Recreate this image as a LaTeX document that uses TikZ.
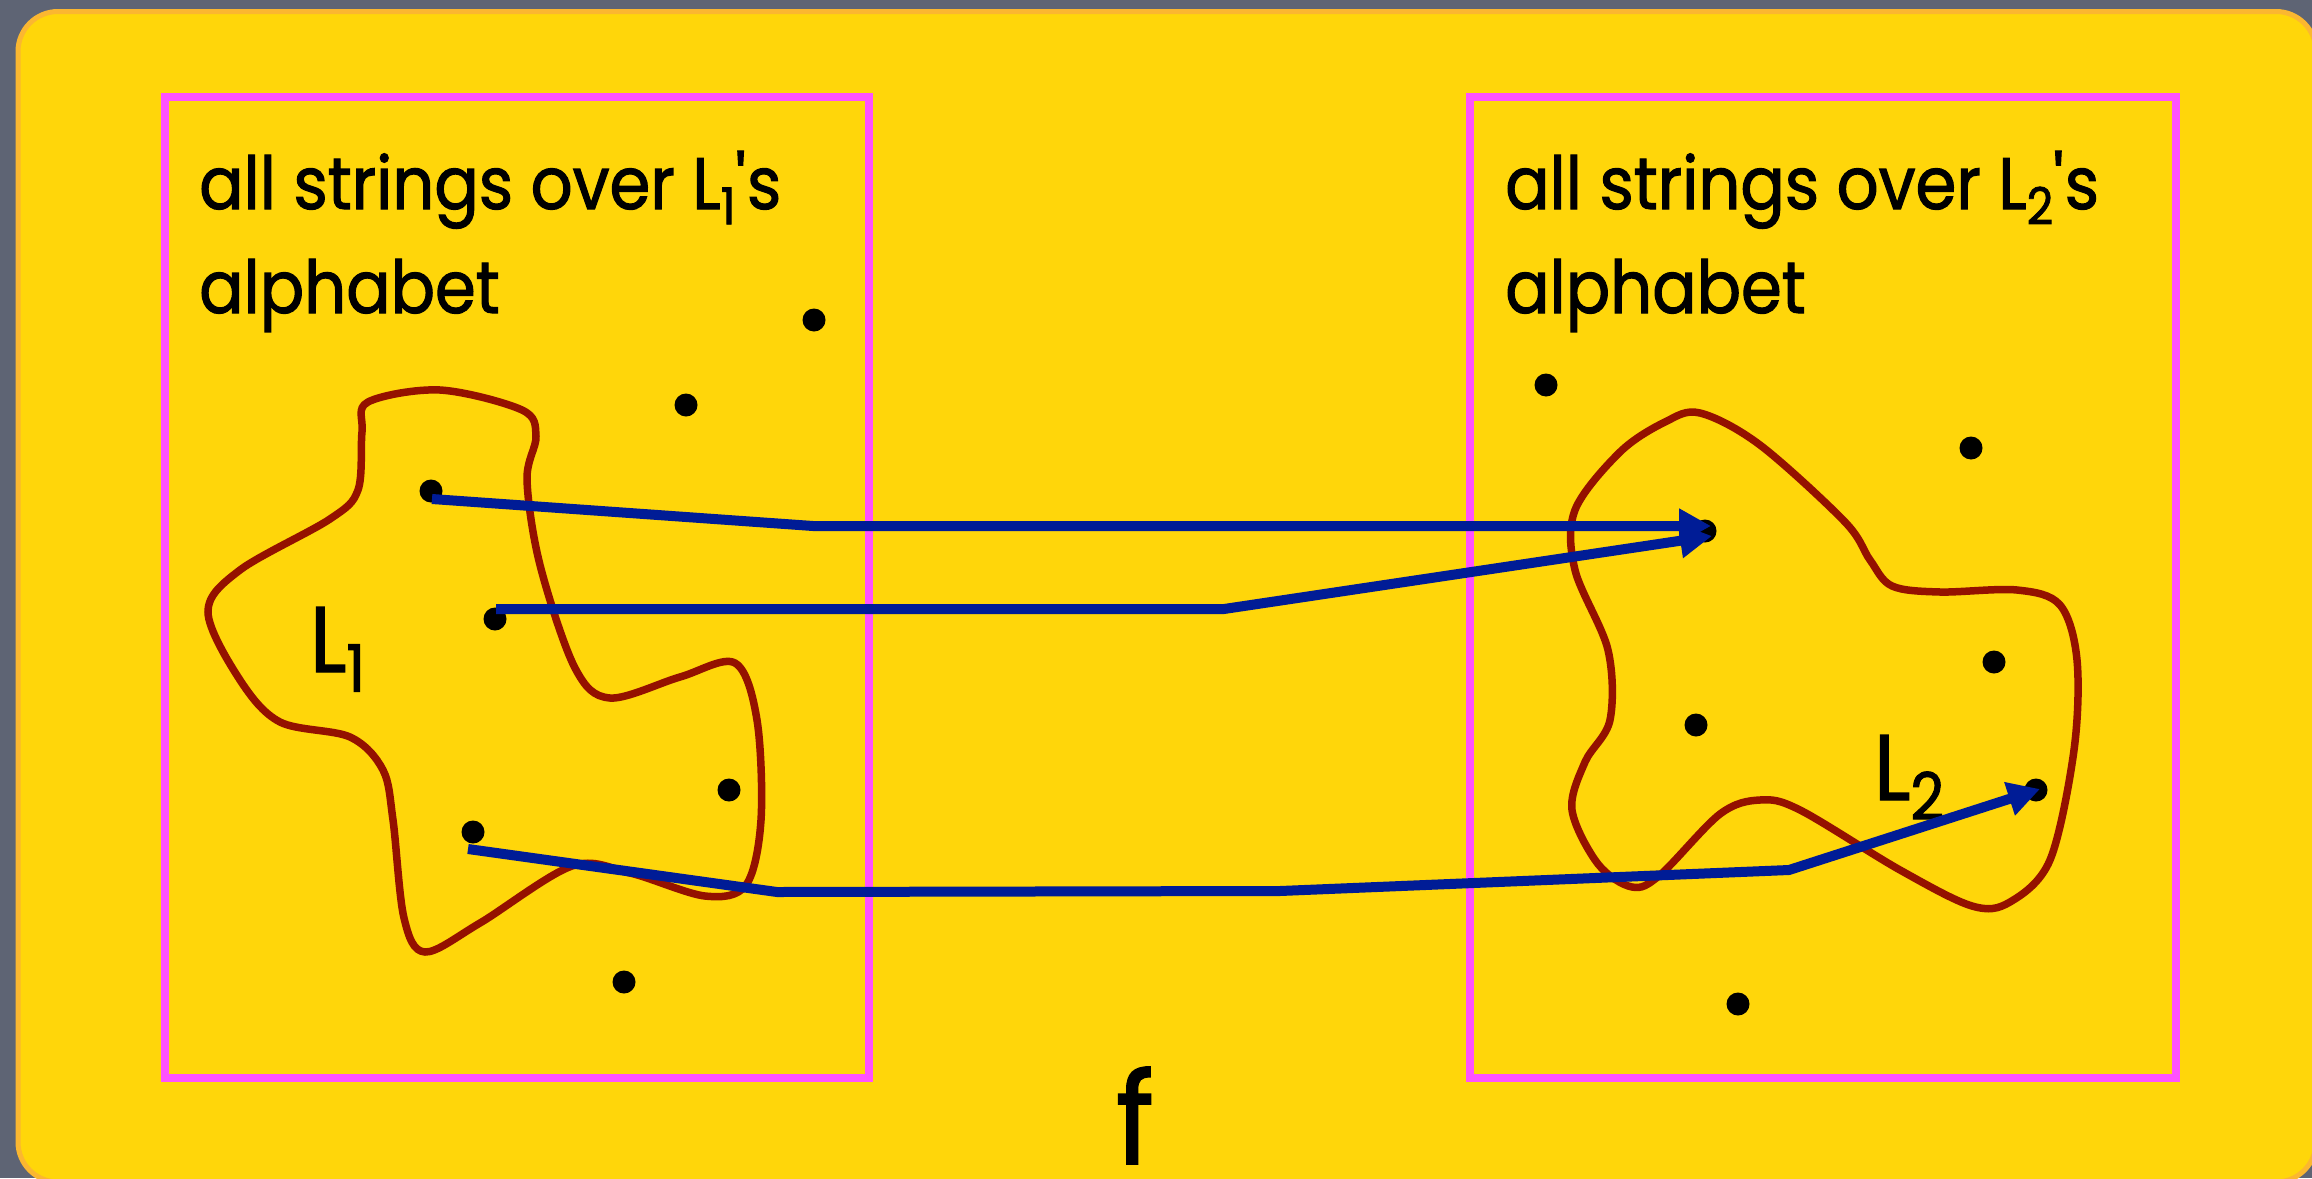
\documentclass[tikz,border=0pt]{standalone}
\usepackage{fontspec}
\setmainfont[FakeStretch=0.9,FakeBold=1.5]{Poppins}
\usepackage{graphicx}
\usetikzlibrary{arrows.meta,calc}
\definecolor{bggray}{RGB}{94,100,116}
\definecolor{slideyellow}{RGB}{255,214,10}
\definecolor{slideorange}{RGB}{251,183,48}
\definecolor{boxpink}{RGB}{255,82,255}
\definecolor{blobred}{RGB}{148,17,0}
\definecolor{arrowblue}{RGB}{0,28,150}
\newcommand\lsub[1]{\raisebox{-0.21em}{\scalebox{0.7}{#1}}}
\begin{document}
\begin{tikzpicture}[x=1pt,y=-1pt,
  setbox/.style={draw=boxpink,line width=8pt},
  blob/.style={draw=blobred,line width=7.5pt},
  dotpt/.style={circle,fill=black,inner sep=0pt,minimum size=23pt},
  maparrow/.style={draw=arrowblue,line width=10pt,-{Triangle[length=32pt,width=33pt]}},
  hdr/.style={anchor=base west,inner sep=0pt,font=\fontsize{73}{88}\selectfont},
  lang/.style={anchor=base west,inner sep=0pt,font=\fontsize{93}{110}\selectfont},
  fname/.style={anchor=base west,inner sep=0pt,font=\fontsize{127}{150}\selectfont}]
\useasboundingbox (0,0) rectangle (2312,1178);
\fill[bggray] (0,0) rectangle (2312,1178);
\begin{scope}
\clip (0,0) rectangle (2312,1178);
\draw[fill=slideyellow,draw=slideorange,line width=5pt,rounded corners=40pt] (18,11.5) rectangle (2316,1182);
\end{scope}
% set boxes
\draw[setbox] (165,96.5) rectangle (869,1078);
\draw[setbox] (1470,96.5) rectangle (2175.5,1078);
% headers
\node[hdr] (hl1) at (199,209) {all strings over L\lsub{1}\textquotesingle s};
\node[hdr] (hl2) at (199,313) {alphabet};
\node[hdr] (hr1) at (1505,209) {all strings over L\lsub{2}\textquotesingle s};
\node[hdr] (hr2) at (1505,313) {alphabet};
% blobs
\draw[blob] plot[smooth cycle,tension=0.55] coordinates {
(368,402) (440,390) (522,410) (536,436) (527,480) (540,565) (575,668)
(610,698) (680,677) (735,663) (757,720) (761,820) (746,885) (705,896)
(630,873) (572,866) (480,923) (425,952) (404,918) (393,820) (383,770)
(350,737) (280,722) (240,680) (208,612) (240,570) (330,519) (358,490)
(362,432)};
\draw[blob] plot[smooth cycle,tension=0.55] coordinates {
(1700,413) (1760,445) (1845,522) (1870,560) (1892,586) (1940,592)
(2017,590) (2060,605) (2077,660) (2074,750) (2050,860) (2010,902)
(1972,906) (1900,870) (1800,810) (1760,800) (1720,814) (1660,875)
(1632,887) (1598,864) (1572,810) (1585,762) (1610,720) (1608,650)
(1575,570) (1575,510) (1620,452) (1665,422)};
% labels
\node[lang] (lab1) at (310,672) {L\lsub{1}};
\node[lang] (lab2) at (1874,800) {L\lsub{2}};
\node[fname] (fn) at (1116,1164) {f};
% dots left
\node[dotpt] (l1) at (814,320) {};
\node[dotpt] (l2) at (686,405) {};
\node[dotpt] (l3) at (431,491) {};
\node[dotpt] (l4) at (495,619) {};
\node[dotpt] (l5) at (729,790) {};
\node[dotpt] (l6) at (473,832) {};
\node[dotpt] (l7) at (624,982) {};
% dots right
\node[dotpt] (r1) at (1546,385) {};
\node[dotpt] (r2) at (1971,448) {};
\node[dotpt] (r3) at (1994,662) {};
\node[dotpt] (r4) at (1696,725) {};
\node[dotpt] (r5) at (2036,790) {};
\node[dotpt] (r6) at (1738,1004) {};
\node[dotpt] (rh) at (1705,531) {};
% arrows
\draw[maparrow] ($(l3.center)+(1,8)$) -- (813,526) -- ($(rh.center)+(6,-5)$);
\draw[maparrow] ($(l4.center)+(1,-10)$) -- (1224,609) -- ($(rh.center)+(7,5)$);
\draw[maparrow] ($(l6.center)+(-5,17)$) -- (777,892) -- (1280,891) -- (1789,870) -- ($(r5.center)+(4,-1)$);
\end{tikzpicture}
\end{document}
